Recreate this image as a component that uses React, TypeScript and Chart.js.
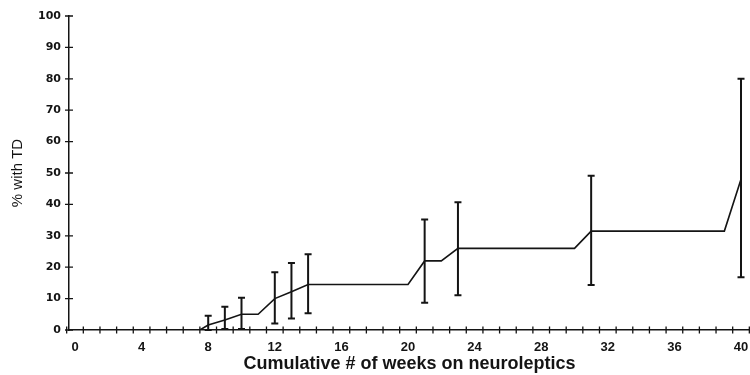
import React, { useEffect, useRef } from "react";
import { Chart, registerables } from "chart.js";

Chart.register(...registerables);

// Kaplan-Meier style curve (weeks, % with TD)
const lineWeeks = [7.5, 8, 9, 10, 11, 12, 13, 14, 20, 21, 22, 23, 30, 31, 39, 40];
const linePct = [0, 1.6, 3.2, 5, 5, 10, 12.2, 14.5, 14.5, 22, 22, 26, 26, 31.5, 31.5, 48];

// Error bars
const barWeeks = [8, 9, 10, 12, 13, 14, 21, 23, 31, 40];
const barLow = [0, 0.3, 0.3, 2.1, 3.7, 5.3, 8.7, 11.1, 14.3, 16.8];
const barHigh = [4.5, 7.4, 10.3, 18.4, 21.3, 24.1, 35.2, 40.7, 49.1, 80];

// Axis ticks
const xTickLabels = [0, 4, 8, 12, 16, 20, 24, 28, 32, 36, 40];
const xMinorTicks = Array.from({ length: 42 }, (_, i) => i - 0.5);
const yTickLabels = [0, 10, 20, 30, 40, 50, 60, 70, 80, 90, 100];

const INK = "#141414";

const decorPlugin = {
  id: "decor",
  afterDatasetsDraw(chart: any) {
    const { ctx, scales } = chart;
    const xs = scales.x;
    const ys = scales.y;
    ctx.save();
    ctx.strokeStyle = INK;
    ctx.lineWidth = 2;
    for (let i = 0; i < barWeeks.length; i++) {
      const px = xs.getPixelForValue(barWeeks[i]);
      const top = ys.getPixelForValue(barHigh[i]);
      const bot = ys.getPixelForValue(barLow[i]);
      ctx.beginPath();
      ctx.moveTo(px, top);
      ctx.lineTo(px, bot);
      ctx.moveTo(px - 3.5, top);
      ctx.lineTo(px + 3.5, top);
      ctx.moveTo(px - 3.5, bot);
      ctx.lineTo(px + 3.5, bot);
      ctx.stroke();
    }
    ctx.restore();
  },
  afterDraw(chart: any) {
    const { ctx, scales } = chart;
    const xs = scales.x;
    const ys = scales.y;
    const y0 = ys.getPixelForValue(0);
    const xAxis = chart.chartArea.left;
    ctx.save();
    ctx.strokeStyle = INK;
    ctx.lineWidth = 1.3;
    ctx.beginPath();
    for (const v of xMinorTicks) {
      const px = xs.getPixelForValue(v);
      ctx.moveTo(px, y0 - 3.5);
      ctx.lineTo(px, y0 + 3.5);
    }
    for (const v of yTickLabels) {
      const py = ys.getPixelForValue(v);
      ctx.moveTo(xAxis - 4, py);
      ctx.lineTo(xAxis + 4, py);
    }
    ctx.stroke();
    ctx.restore();
  },
};

export default function App() {
  const ref = useRef<HTMLCanvasElement | null>(null);

  useEffect(() => {
    if (!ref.current) return;
    const chart = new Chart(ref.current, {
      type: "line",
      data: {
        datasets: [
          {
            data: lineWeeks.map((w, i) => ({ x: w, y: linePct[i] })),
            borderColor: INK,
            borderWidth: 1.6,
            pointRadius: 0,
            tension: 0,
            fill: false,
          },
        ],
      },
      options: {
        animation: false,
        responsive: false,
        layout: { padding: { top: 16, right: 0, left: 0, bottom: 0 } },
        plugins: {
          legend: { display: false },
          tooltip: { enabled: false },
        },
        scales: {
          x: {
            type: "linear",
            min: -0.36,
            max: 40.54,
            afterBuildTicks: (scale: any) => {
              scale.ticks = xTickLabels.map((v) => ({ value: v }));
            },
            afterFit: (scale: any) => {
              scale.height = 45;
              scale.paddingLeft = 0;
              scale.paddingRight = 0;
            },
            grid: { drawOnChartArea: false, drawTicks: false },
            border: { display: true, color: INK, width: 1.5 },
            ticks: {
              color: INK,
              padding: 10,
              maxRotation: 0,
              autoSkip: false,
              font: { family: "'Liberation Sans', Arial, sans-serif", size: 13, weight: "bold" },
            },
            title: {
              display: true,
              text: "Cumulative # of weeks on neuroleptics",
              color: INK,
              padding: { top: 0, bottom: 0 },
              font: { family: "'Liberation Sans', Arial, sans-serif", size: 18, weight: "bold" },
            },
          },
          y: {
            type: "linear",
            min: 0,
            max: 100,
            afterBuildTicks: (scale: any) => {
              scale.ticks = yTickLabels.map((v) => ({ value: v }));
            },
            afterFit: (scale: any) => {
              scale.width = 69;
              scale.paddingTop = 0;
              scale.paddingBottom = 0;
            },
            grid: { drawOnChartArea: false, drawTicks: false },
            border: { display: true, color: INK, width: 1.5 },
            ticks: {
              color: INK,
              padding: 8,
              font: { family: "'DejaVu Sans', sans-serif", size: 11, weight: "bold" },
            },
            title: {
              display: true,
              text: "% with TD",
              color: INK,
              padding: { top: 9, bottom: 0 },
              font: { family: "'Liberation Sans', Arial, sans-serif", size: 15, weight: "normal" },
            },
          },
        },
      },
      plugins: [decorPlugin],
    });
    return () => chart.destroy();
  }, []);

  return (
    <div style={{ position: "fixed", left: 0, top: 0, width: 750, height: 375, background: "#fff" }}>
      <canvas ref={ref} width={750} height={375} />
    </div>
  );
}
